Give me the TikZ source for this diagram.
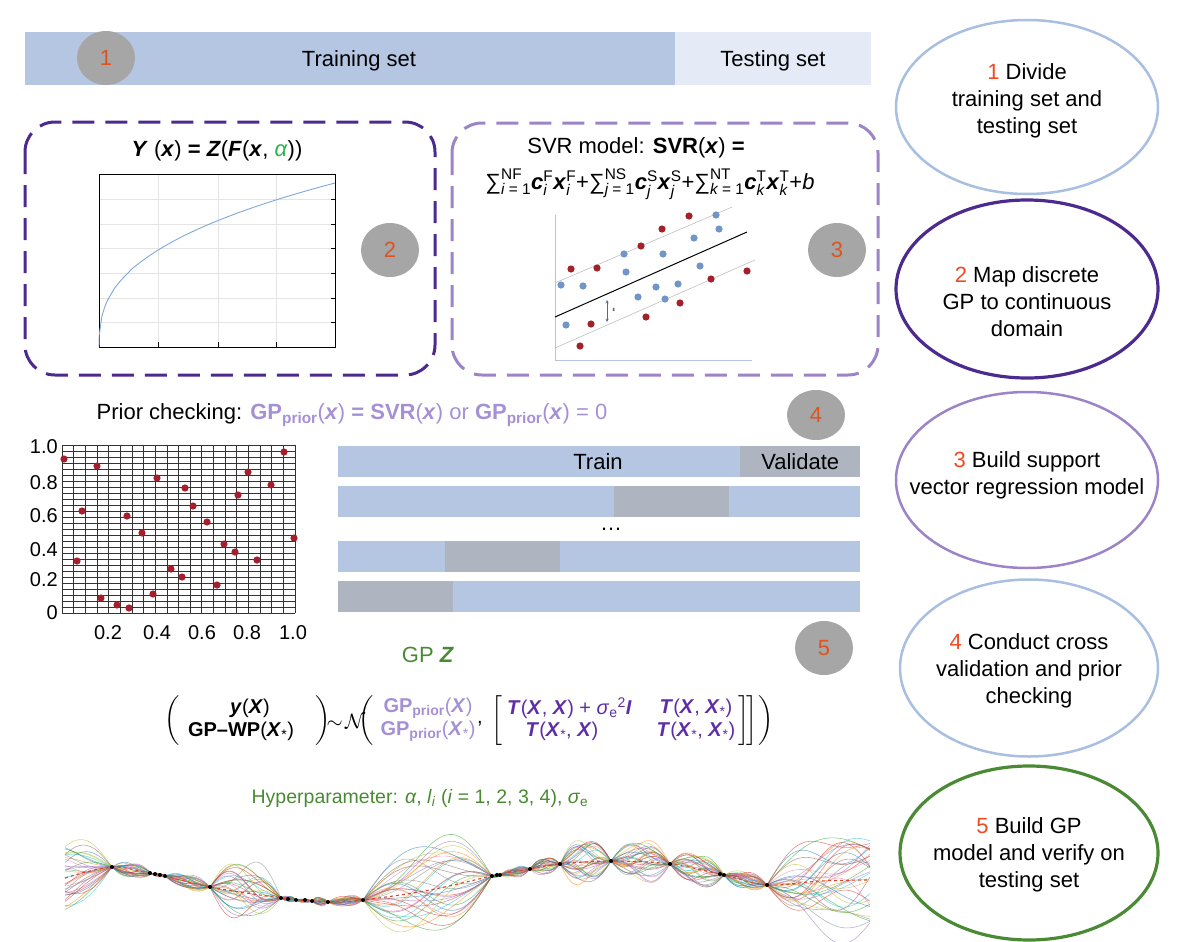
\documentclass[tikz,border=0pt]{standalone}
\usepackage{amsmath}
\usepackage{fontspec}
\setmainfont{Liberation Sans}
\usetikzlibrary{shapes.geometric}

\definecolor{barblue}{HTML}{B4C6E2}
\definecolor{testblue}{HTML}{E4EBF6}
\definecolor{stepgray}{HTML}{A6A6A6}
\definecolor{numorange}{HTML}{DC5520}
\definecolor{numred}{HTML}{EE4B24}
\definecolor{deeppurple}{HTML}{4D2A8E}
\definecolor{softpurple}{HTML}{9D84C8}
\definecolor{priorpurple}{HTML}{A690D4}
\definecolor{matpurple}{HTML}{5F2EA6}
\definecolor{gpgreen}{HTML}{4A8A34}
\definecolor{alphagreen}{HTML}{2DB24C}
\definecolor{valgray}{HTML}{AFB5C0}
\definecolor{ovalblue}{HTML}{A9BFE1}
\definecolor{dotred}{HTML}{A51E2B}
\definecolor{curveblue}{HTML}{7FA8D8}
\definecolor{plotgrid}{HTML}{E4E4E4}
\definecolor{svrblue}{HTML}{7195C6}
\definecolor{svrred}{HTML}{A3222A}
\definecolor{axisblue}{HTML}{B7C4DF}
\definecolor{meanred}{HTML}{D9452C}
\definecolor{gpc0}{HTML}{1F77B4}
\definecolor{gpc1}{HTML}{FF7F0E}
\definecolor{gpc2}{HTML}{2CA02C}
\definecolor{gpc3}{HTML}{D62728}
\definecolor{gpc4}{HTML}{9467BD}
\definecolor{gpc5}{HTML}{8C564B}
\definecolor{gpc6}{HTML}{E377C2}
\definecolor{gpc7}{HTML}{7F7F7F}
\definecolor{gpc8}{HTML}{BCBD22}
\definecolor{gpc9}{HTML}{17BECF}

\newcommand{\vb}[1]{\textbf{\textit{#1}}}
\newcommand{\ital}[1]{\textit{#1}}

\begin{document}
\begin{tikzpicture}[
  x=1pt, y=-1pt,
  every node/.style={font=\fontsize{22}{27}\selectfont, inner sep=0pt},
  stepmark/.style={ellipse, fill=stepgray, minimum width=58pt, minimum height=54pt, text=numorange},
  taskoval/.style={ellipse, line width=2.5pt, minimum width=262pt, minimum height=174pt},
  ovaltext/.style={align=center},
  band/.style={anchor=north west, fill=barblue, minimum height=31pt},
  fold/.style={anchor=north west, fill=valgray, minimum height=31pt},
  modelbox/.style={rounded corners=30pt, line width=3pt, dash pattern=on 22pt off 11pt},
  ticklabel/.style={font=\fontsize{20}{24}\selectfont},
  formula/.style={font=\fontsize{20}{24}\selectfont},
  gpsample/.style={line width=0.6pt, opacity=0.55}
]
  \useasboundingbox (0,0) rectangle (1192,942);

  % step 1: data split
  \node[band, minimum width=650pt, minimum height=53pt] (trainbar) at (25,32) {};
  \node[band, fill=testblue, minimum width=196pt, minimum height=53pt] (testbar) at (675,32) {};
  \node (traintext) at (359,61) {Training set};
  \node (testtext) at (773,61) {Testing set};
  \node[stepmark] (stepone) at (106,58) {1};

  % step 2: mapping box
  \draw[modelbox, draw=deeppurple] (25,122) rectangle (435,375);
  \node (mapeq) at (217,151) {\vb{Y} (\vb{x}) \textbf{=} \vb{Z}(\vb{F}(\vb{x}, \textcolor{alphagreen}{\ital{α}}))};
  \foreach \gx in {158,218,276}
    \draw[plotgrid, line width=0.6pt] (\gx,174) -- (\gx,347);
  \foreach \gy in {199,224,248,273,298,322}
    \draw[plotgrid, line width=0.6pt] (99,\gy) -- (335,\gy);
  \foreach \gx in {158,218,276}
    \draw[line width=1pt] (\gx,347) -- (\gx,342);
  \foreach \gy in {199,224,248,273,298,322}
    \draw[line width=0.6pt] (335,\gy) -- (331,\gy);
  \draw[line width=1pt] (99,174) rectangle (335,347);
  \draw[curveblue, line width=0.9pt] (99,347) -- plot[domain=0.001:1, samples=90] ({99+236*\x}, {347-164*(\x)^0.38});
  \node[stepmark] (steptwo) at (390,250) {2};

  % step 3: SVR box
  \draw[modelbox, draw=softpurple] (452,123) rectangle (878,375);
  \node (svrhead) at (636,148) {SVR model: \textbf{SVR}(\vb{x}) \textbf{=}};
  \node (svrsum) at (650,184) {$\text{∑}_{\ital{i}\text{ = 1}}^{\text{NF}}\vb{c}_{\ital{i}}^{\text{F}}\vb{x}_{\ital{i}}^{\text{F}}\text{+}\text{∑}_{\ital{j}\text{ = 1}}^{\text{NS}}\vb{c}_{\ital{j}}^{\text{S}}\vb{x}_{\ital{j}}^{\text{S}}\text{+}\text{∑}_{\ital{k}\text{ = 1}}^{\text{NT}}\vb{c}_{\ital{k}}^{\text{T}}\vb{x}_{\ital{k}}^{\text{T}}\text{+}\ital{b}$};
  \draw[axisblue, line width=0.8pt] (555,215) -- (555,360) -- (752,360);
  \draw[black!25, line width=0.6pt] (555,283) -- (732,207);
  \draw[black!25, line width=0.6pt] (555,348) -- (755,260);
  \draw[black, line width=1pt] (555,317) -- (747,232);
  \foreach \px/\py in {571/269, 597/268, 641/246, 662/229, 689/216, 747/271, 711/279, 680/303, 646/317, 591/324, 580/346}
    \fill[svrred] (\px,\py) circle[radius=3.6pt];
  \foreach \px/\py in {561/285, 583/286, 624/254, 626/272, 663/254, 694/238, 716/215, 719/229, 700/266, 678/284, 656/287, 638/297, 665/299, 566/325}
    \fill[svrblue] (\px,\py) circle[radius=3.6pt];
  \draw[svrblue!70!black, line width=0.5pt, <->, >=stealth] (607,300) -- (607,322);
  \node[font=\fontsize{6}{6}\selectfont] (epsmark) at (614,310) {ε};
  \node[stepmark] (stepthree) at (837,250) {3};

  % step 4: prior checking and folds
  \node (priortext) at (352,415) {Prior checking: \textcolor{priorpurple}{\textbf{GP}\textsubscript{\textbf{prior}}(\vb{x}) \textbf{= SVR}(\vb{x}) or \textbf{GP}\textsubscript{\textbf{prior}}(\vb{x}) = 0}};
  \foreach \i in {0,...,20}
    \draw[black!80, line width=0.7pt] (62+11.65*\i,445) -- ++(0,168);
  \foreach \j in {0,...,28}
    \draw[black!80, line width=0.7pt] (62,445+6*\j) -- ++(233,0);
  \foreach \px/\py in {64/459, 97/466, 82/511, 77/561, 101/598, 117/605, 129/608, 127/516, 142/533, 157/478, 153/594, 171/569, 182/577, 185/488, 193/506, 207/522, 217/585, 224/544, 235/552, 238/495, 248/472, 257/560, 271/485, 284/452, 294/538}
    \fill[dotred] (\px,\py) circle[radius=3.6pt];
  \foreach \ty/\tl in {447/1.0, 483/0.8, 516/0.6, 550/0.4, 580/0.2, 613/0}
    \node[ticklabel, anchor=east] at (58,\ty) {\tl};
  \foreach \tx/\tl in {108/0.2, 157/0.4, 202/0.6, 247/0.8, 293/1.0}
    \node[ticklabel] at (\tx,633) {\tl};

  \node[band, minimum width=522pt] (foldone) at (338,446) {};
  \node[fold, minimum width=120pt] (valone) at (740,446) {Validate};
  \node (traintag) at (598,462) {Train};
  \node[band, minimum width=522pt] (foldtwo) at (338,486) {};
  \node[fold, minimum width=115pt] (valtwo) at (614,486) {};
  \node (morefolds) at (611,529) {\ldots};
  \node[band, minimum width=522pt] (foldthree) at (338,541) {};
  \node[fold, minimum width=115pt] (valthree) at (445,541) {};
  \node[band, minimum width=522pt] (foldfour) at (338,581) {};
  \node[fold, minimum width=115pt] (valfour) at (338,581) {};
  \node[stepmark, minimum height=50pt] (stepfour) at (816,415) {4};

  % step 5: GP model
  \node[stepmark] (stepfive) at (824,648) {5};
  \node (gptitle) at (428,655) {\textcolor{gpgreen}{GP \vb{Z}}};
  \node[formula] (lpar) at (172,721) {$\bigg($};
  \node[formula] (yobs) at (250,708) {\vb{y}(\vb{X})};
  \node[formula] (ypred) at (241,731) {\textbf{GP–WP}(\vb{X}\textsubscript{*})};
  \node[formula] (rpar) at (323,721) {$\bigg)$};
  \node[formula] (normal) at (346,721) {$\sim\!\mathcal{N}$};
  \node[formula] (lpartwo) at (366,721) {$\bigg($};
  \node[formula, text=priorpurple] (meanone) at (428,708) {\textbf{GP}\textsubscript{\textbf{prior}}(\vb{X})};
  \node[formula, text=priorpurple] (meantwo) at (428,731) {\textbf{GP}\textsubscript{\textbf{prior}}(\vb{X}\textsubscript{*})};
  \node[formula] (sepcomma) at (480,724) {,};
  \node[formula] (lbrack) at (497,721) {$\bigg[$};
  \node[formula, text=matpurple, anchor=west] (covaa) at (507,708) {\vb{T}(\vb{X}, \vb{X}) + \ital{σ}\textsubscript{e}\textsuperscript{2}\vb{I}};
  \node[formula, text=matpurple] (covba) at (562,731) {\vb{T}(\vb{X}\textsubscript{*}, \vb{X})};
  \node[formula, text=matpurple] (covab) at (696,708) {\vb{T}(\vb{X}, \vb{X}\textsubscript{*})};
  \node[formula, text=matpurple] (covbb) at (696,731) {\vb{T}(\vb{X}\textsubscript{*}, \vb{X}\textsubscript{*})};
  \node[formula] (rbrack) at (748,721) {$\bigg]\!\bigg]$};
  \node[formula] (rpartwo) at (766,721) {$\bigg)$};
  \node[font=\fontsize{19.5}{24}\selectfont] (hyper) at (420,798) {\textcolor{gpgreen}{Hyperparameter: \ital{α}, \ital{l}\textsubscript{\ital{i}} (\ital{i} = 1, 2, 3, 4), \ital{σ}\textsubscript{e}}};

  % posterior samples
  \pgfmathsetseed{12}
  \foreach \k in {1,...,34}{
    \pgfmathtruncatemacro{\ci}{mod(\k,10)}
    \pgfmathsetmacro{\ca}{rand}
    \pgfmathsetmacro{\cb}{rand}
    \draw[gpsample, gpc\ci] plot[domain=0:1, samples=14, smooth] ({65+47*\x}, {878-11*\x+35*(0.9*\ca*cos(90*\x)+0.3*\cb*sin(180*\x))});
    \foreach \xa/\ya/\xb/\yb/\amp in {112/867/152/874/8, 152/874/165/876/2, 165/876/210/887/8, 210/887/281/898/35, 281/898/296/900/3, 296/900/312/901/2, 312/901/328/902/5, 328/902/363/900/6, 363/900/492/876/55, 492/876/500/875/2, 500/875/530/869/6, 530/869/560/864/10, 560/864/611/861/25, 611/861/670/864/25, 670/864/724/875/18, 724/875/767/885/10}{
      \pgfmathsetmacro{\ca}{rand}
      \pgfmathsetmacro{\cb}{rand}
      \draw[gpsample, gpc\ci] plot[domain=0:1, samples=14, smooth] ({\xa+(\xb-\xa)*\x}, {\ya+(\yb-\ya)*\x+\amp*(0.8*\ca*sin(180*\x)+0.35*\cb*sin(360*\x))});
    }
    \pgfmathsetmacro{\ca}{rand}
    \pgfmathsetmacro{\cb}{rand}
    \pgfmathsetmacro{\cc}{rand}
    \draw[gpsample, gpc\ci] plot[domain=0:1, samples=20, smooth] ({767+103*\x}, {885-5*\x+55*(0.8*\ca*sin(90*\x)+0.4*\cb*sin(180*\x)+0.3*\cc*sin(360*\x))});
  }
  \draw[meanred, line width=1.1pt, dashed] plot[smooth, tension=0.6] coordinates {(65,878) (112,867) (152,874) (165,876) (210,887) (281,898) (312,901) (328,902) (363,900) (430,890) (492,876) (530,869) (560,864) (611,861) (670,864) (724,875) (767,885) (820,881) (870,880)};
  \foreach \px/\py in {112/867, 150/873, 155/874, 160/875, 165/876, 210/887, 281/898, 288/899, 296/900, 305/900, 312/901, 328/902, 363/900, 492/876, 497/875, 500/875, 530/869, 560/864, 611/861, 670/864, 720/874, 724/875, 767/885}
    \fill[black] (\px,\py) circle[radius=2pt];

  % task ovals
  \node[taskoval, draw=ovalblue] (divide) at (1027,107) {};
  \node[ovaltext] (dividetext) at (1027,101) {\textcolor{numred}{1} Divide\\training set and\\testing set};
  \node[taskoval, draw=deeppurple, line width=3.2pt, minimum height=178pt] (mapping) at (1027,289) {};
  \node[ovaltext] (mappingtext) at (1027,302) {\textcolor{numred}{2} Map discrete\\GP to continuous\\domain};
  \node[taskoval, draw=softpurple, minimum height=176pt] (svrbuild) at (1027,480) {};
  \node[ovaltext] (svrtext) at (1027,475) {\textcolor{numred}{3} Build support\\vector regression model};
  \node[taskoval, draw=ovalblue, minimum width=258pt, minimum height=177pt] (crossval) at (1029,668) {};
  \node[ovaltext] (crossvaltext) at (1029,671) {\textcolor{numred}{4} Conduct cross\\validation and prior\\checking};
  \node[taskoval, draw=gpgreen, line width=3.2pt, minimum width=258pt] (gpbuild) at (1029,853) {};
  \node[ovaltext] (gpbuildtext) at (1029,855) {\textcolor{numred}{5} Build GP\\model and verify on\\testing set};
\end{tikzpicture}
\end{document}
